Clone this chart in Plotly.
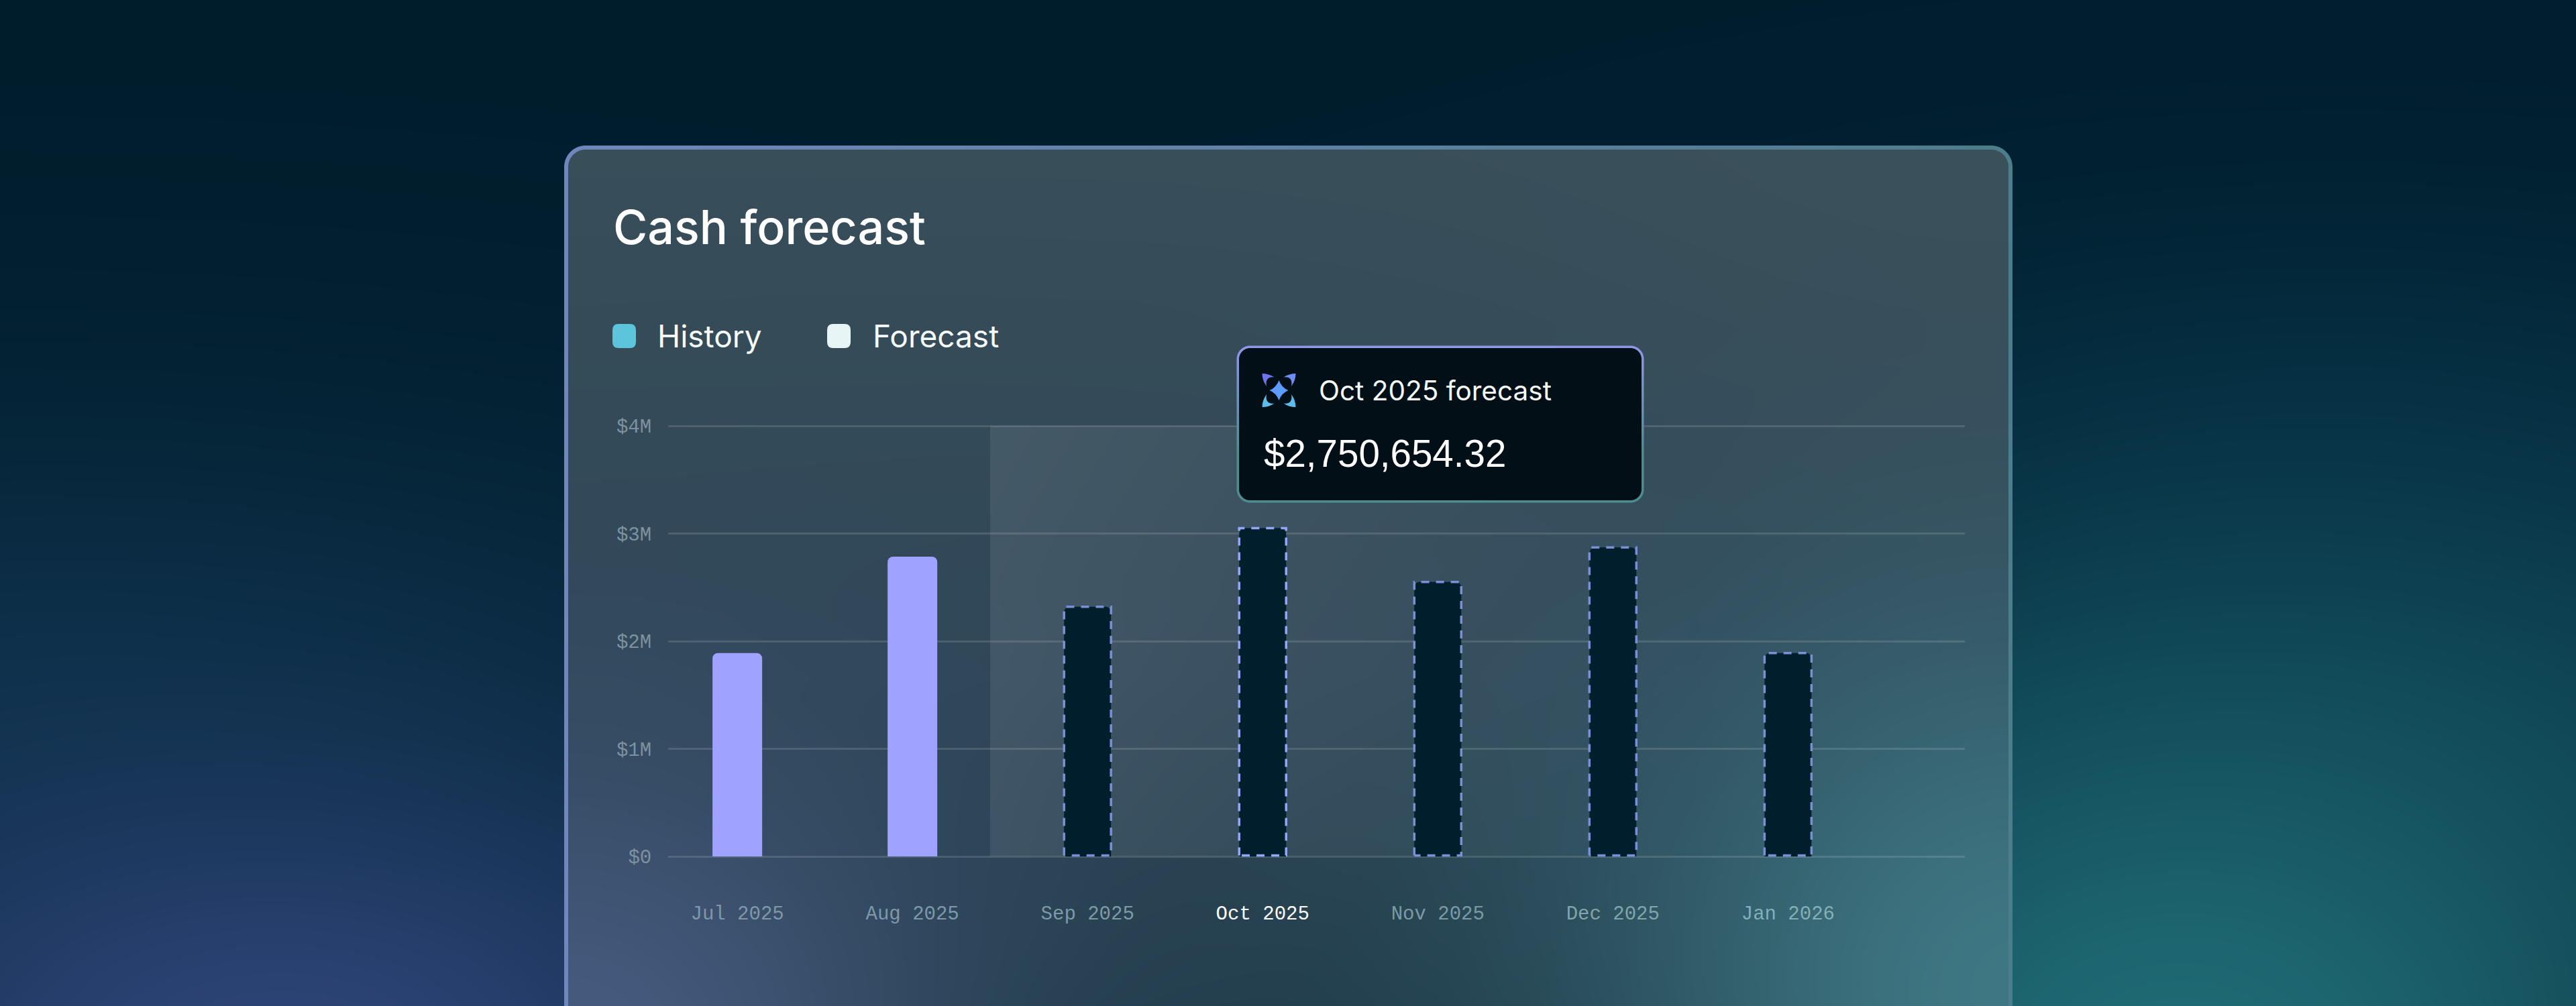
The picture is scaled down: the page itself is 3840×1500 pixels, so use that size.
import base64, struct, zlib
import numpy as np
import plotly.graph_objects as go

months = ['Jul 2025', 'Aug 2025', 'Sep 2025', 'Oct 2025', 'Nov 2025', 'Dec 2025', 'Jan 2026']
history = [1.89, 2.785, None, None, None, None, None]
forecast = [None, None, 2.32, 3.05, 2.55, 2.87, 1.89]
y_ticks = [0, 1, 2, 3, 4]
y_labels = ['$0', '$1M', '$2M', '$3M', '$4M']
highlight = 'Oct 2025'
tick_colors = ['#7f98a8', '#7f98a8', '#7e9aa6', '#ffffff', '#7b9aa6', '#7fa6ad', '#82b0b6']

W, H = 3840, 1500
BAR_W = 0.2835
FC_W = 0.268
Y_PAD = 0.02  # keeps the $0 and $4M gridlines, plotly drops gridlines on the range ends


def px(x):
    return x / W


def py(y):
    return 1 - y / H


def hexrgb(c):
    return np.array([int(c[i:i + 2], 16) for i in (1, 3, 5)], dtype=float)


def png_uri(arr):
    h, w, ch = arr.shape
    ctype = 6 if ch == 4 else 2
    raw = np.zeros((h, w * ch + 1), dtype=np.uint8)
    raw[:, 1:] = arr.reshape(h, -1)

    def chunk(tag, data):
        return struct.pack('>I', len(data)) + tag + data + struct.pack('>I', zlib.crc32(tag + data))

    png = b'\x89PNG\r\n\x1a\n' + chunk(b'IHDR', struct.pack('>IIBBBBB', w, h, 8, ctype, 0, 0, 0)) \
        + chunk(b'IDAT', zlib.compress(raw.tobytes(), 6)) + chunk(b'IEND', b'')
    return 'data:image/png;base64,' + base64.b64encode(png).decode()


def sdf(xx, yy, x0, y0, x1, y1, r):
    # signed distance to a rounded rect
    qx = np.abs(xx - (x0 + x1) / 2) - (x1 - x0) / 2 + r
    qy = np.abs(yy - (y0 + y1) / 2) - (y1 - y0) / 2 + r
    return np.hypot(np.maximum(qx, 0), np.maximum(qy, 0)) + np.minimum(np.maximum(qx, qy), 0) - r


def glow(xx, yy, cx, cy, sx, sy):
    return np.exp(-((xx - cx) / sx) ** 2 / 2 - ((yy - cy) / sy) ** 2 / 2)


def blend(img, weight, color):
    return img + weight[..., None] * (hexrgb(color) - img)


def make_backdrop():
    xx, yy = np.meshgrid(np.arange(W) + .5, np.arange(H) + .5)
    # page glows
    bg = np.ones((H, W, 3)) * hexrgb('#001d2c')
    bg = blend(bg, glow(xx, yy, 0, 1050, 1000, 330) * .9, '#0c3049')
    bg = blend(bg, glow(xx, yy, 3500, 650, 700, 260) * .7, '#032c42')
    bg = blend(bg, glow(xx, yy, 3700, 1050, 900, 320) * .9, '#0a3a4c')
    bg = blend(bg, glow(xx, yy, 420, 1560, 620, 300), '#2c4375')
    bg = blend(bg, glow(xx, yy, 3250, 1580, 620, 430), '#1f6a74')
    # card glass
    t = np.clip((yy - 217) / (1500 - 217), 0, 1)[..., None]
    top, mid, low = hexrgb('#384e59'), hexrgb('#2f4657'), hexrgb('#213c4a')
    card = np.where(t < .62, top + (mid - top) * t / .62, mid + (low - mid) * (t - .62) / .38)
    card = blend(card, glow(xx, yy, 840, 1560, 400, 320), '#465a7e')
    card = blend(card, glow(xx, yy, 3020, 1480, 440, 420), '#3e7783')
    card = blend(card, glow(xx, yy, 2950, 300, 500, 300) * .4, '#3e535c')
    # forecast band fades out to the right
    band = np.clip(1 - (xx - 1476) / 1050, 0, 1) * .085
    band[(xx < 1476) | (yy < 635) | (yy > 1277)] = 0
    card = blend(card, band, '#ffffff')
    # card border
    d = sdf(xx, yy, 841, 217, 3000, 1700, 32)
    fx = ((xx - 841) / (3000 - 841))[..., None]
    edge = hexrgb('#7086bc') + (hexrgb('#4b7d8c') - hexrgb('#7086bc')) * fx
    inner = np.clip(-d - 5.5, 0, 1)[..., None]
    out = edge + (card - edge) * inner
    mask = np.clip(.5 - d, 0, 1)[..., None]
    img = bg + (out - bg) * mask
    return np.clip(img + .5, 0, 255).astype(np.uint8)


def make_tooltip(w, h, r):
    xx, yy = np.meshgrid(np.arange(w) + .5, np.arange(h) + .5)
    d = sdf(xx, yy, .5, .5, w - .5, h - .5, r)
    f = (yy / h)[..., None]
    edge = hexrgb('#8f97ea') + (hexrgb('#4d8d92') - hexrgb('#8f97ea')) * np.clip(f * 1.5, 0, 1)
    inner = np.clip(-d - 3, 0, 1)[..., None]
    rgb = edge + (hexrgb('#020f16') - edge) * inner
    a = np.clip(.5 - d, 0, 1)[..., None] * 255
    return np.clip(np.concatenate([rgb, a], axis=2) + .5, 0, 255).astype(np.uint8)


def rr_path(x0, y0, x1, y1, r):
    return (f'M{px(x0 + r)},{py(y0)} L{px(x1 - r)},{py(y0)} Q{px(x1)},{py(y0)} {px(x1)},{py(y0 + r)} '
            f'L{px(x1)},{py(y1 - r)} Q{px(x1)},{py(y1)} {px(x1 - r)},{py(y1)} '
            f'L{px(x0 + r)},{py(y1)} Q{px(x0)},{py(y1)} {px(x0)},{py(y1 - r)} '
            f'L{px(x0)},{py(y0 + r)} Q{px(x0)},{py(y0)} {px(x0 + r)},{py(y0)} Z')


def icon_path(cx, cy, pts):
    out = ''
    for cmd, *xy in pts:
        out += cmd + ' '.join(f'{px(cx + xy[i])},{py(cy + xy[i + 1])}' for i in range(0, len(xy), 2)) + ' '
    return out + 'Z'


def crescent(sx, sy):
    return [('M', -25 * sx, -25 * sy),
            ('Q', -15 * sx, -25 * sy, -7 * sx, -19.5 * sy),
            ('Q', -21 * sx, -21 * sy, -18.5 * sx, -6 * sy),
            ('Q', -25 * sx, -15 * sy, -25 * sx, -25 * sy)]


xs = list(range(len(months)))
tick_text = [f'<span style="color:{c}">{m}</span>' for m, c in zip(months, tick_colors)]

fig = go.Figure()
fig.add_trace(go.Bar(x=xs, y=history, name='History', width=BAR_W,
                     marker={'color': '#9fa3ff', 'cornerradius': 8, 'line': {'width': 0}}))
fig.add_trace(go.Bar(x=xs, y=forecast, name='Forecast', width=FC_W,
                     marker={'color': '#011e2d', 'cornerradius': 8, 'line': {'width': 0}}))
# dashed outline for forecast bars
for i, v in enumerate(forecast):
    if v is None:
        continue
    l, r = i - FC_W / 2, i + FC_W / 2
    fig.add_trace(go.Scatter(x=[l, l, r, r, l], y=[0.01, v, v, 0.01, 0.01], mode='lines', hoverinfo='skip',
                             line={'color': '#93a8f5' if months[i] == highlight else '#7a90d6',
                                   'width': 3.5, 'dash': '12px,10px'}))

images = [
    {'source': png_uri(make_backdrop()), 'xref': 'paper', 'yref': 'paper', 'x': 0, 'y': 1,
     'sizex': 1, 'sizey': 1, 'xanchor': 'left', 'yanchor': 'top', 'sizing': 'stretch', 'layer': 'below'},
    {'source': png_uri(make_tooltip(608, 235, 20)), 'xref': 'paper', 'yref': 'paper', 'x': px(1843), 'y': py(515),
     'sizex': 608 / W, 'sizey': 235 / H, 'xanchor': 'left', 'yanchor': 'top', 'sizing': 'stretch', 'layer': 'above'},
]

shapes = [
    {'type': 'path', 'xref': 'paper', 'yref': 'paper', 'path': rr_path(913, 483, 948, 519, 9),
     'fillcolor': '#5cc4db', 'line': {'width': 0}},
    {'type': 'path', 'xref': 'paper', 'yref': 'paper', 'path': rr_path(1233, 483, 1268, 519, 9),
     'fillcolor': '#e8f5f5', 'line': {'width': 0}},
]
# tooltip icon
ICON_X, ICON_Y = 1906.5, 582
star = [('M', 0, -15), ('Q', 4, -4, 14, 0), ('Q', 4, 4, 0, 15), ('Q', -4, 4, -14, 0), ('Q', -4, -4, 0, -15)]
for pts, col in [(star, '#5c9dff'), (crescent(1, 1), '#6e74f0'), (crescent(-1, 1), '#6f8cf2'),
                 (crescent(1, -1), '#5cbdea'), (crescent(-1, -1), '#5cbdea')]:
    shapes.append({'type': 'path', 'xref': 'paper', 'yref': 'paper', 'layer': 'above',
                   'path': icon_path(ICON_X, ICON_Y, pts), 'fillcolor': col, 'line': {'width': 0}})

annotations = []
for txt, x, y, font, size, weight, col in [('Cash forecast', 912, 338, 'Inter', 70, 500, '#ffffff'),
                                           ('History', 978, 501, 'Inter', 46, 400, '#f5fafa'),
                                           ('Forecast', 1299, 501, 'Inter', 46, 400, '#f5fafa'),
                                           ('Oct 2025 forecast', 1964, 582, 'Inter', 40.5, 400, '#f5fafa'),
                                           ('$2,750,654.32', 1882, 676, 'Liberation Sans', 56.5, 400, '#ffffff')]:
    annotations.append({'text': txt, 'xref': 'paper', 'yref': 'paper', 'x': px(x), 'y': py(y),
                        'xanchor': 'left', 'yanchor': 'middle', 'showarrow': False,
                        'font': {'family': font, 'size': size, 'weight': weight, 'color': col}})

fig.update_layout(
    width=W, height=H, autosize=False, showlegend=False,
    margin={'l': 0, 'r': 0, 't': 0, 'b': 0, 'pad': 0},
    paper_bgcolor='#001d2c', plot_bgcolor='rgba(0,0,0,0)',
    barmode='overlay', images=images, shapes=shapes, annotations=annotations,
    xaxis={'domain': [px(996), px(2929)], 'range': [-0.395, 7.01], 'tickvals': xs, 'ticktext': tick_text,
           'showgrid': False, 'zeroline': False, 'showline': False, 'ticks': 'outside', 'ticklen': 55,
           'tickcolor': 'rgba(0,0,0,0)', 'tickfont': {'family': 'Liberation Mono', 'size': 29, 'color': '#7f98a8'},
           'automargin': False},
    yaxis={'domain': [py(1277 + Y_PAD * 160.5), py(635 - Y_PAD * 160.5)], 'range': [-Y_PAD, 4 + Y_PAD],
           'tickvals': y_ticks, 'ticktext': y_labels,
           'showgrid': True, 'gridcolor': 'rgba(255,255,255,0.13)', 'gridwidth': 3, 'zeroline': False,
           'showline': False, 'ticks': 'outside', 'ticklen': 18, 'tickcolor': 'rgba(0,0,0,0)',
           'tickfont': {'family': 'Liberation Mono', 'size': 29, 'color': '#7d929e'}, 'automargin': False},
)
fig.write_html('out.html', post_script="document.body.style.margin='0';document.body.style.overflow='hidden';",
               config={'displayModeBar': False})
